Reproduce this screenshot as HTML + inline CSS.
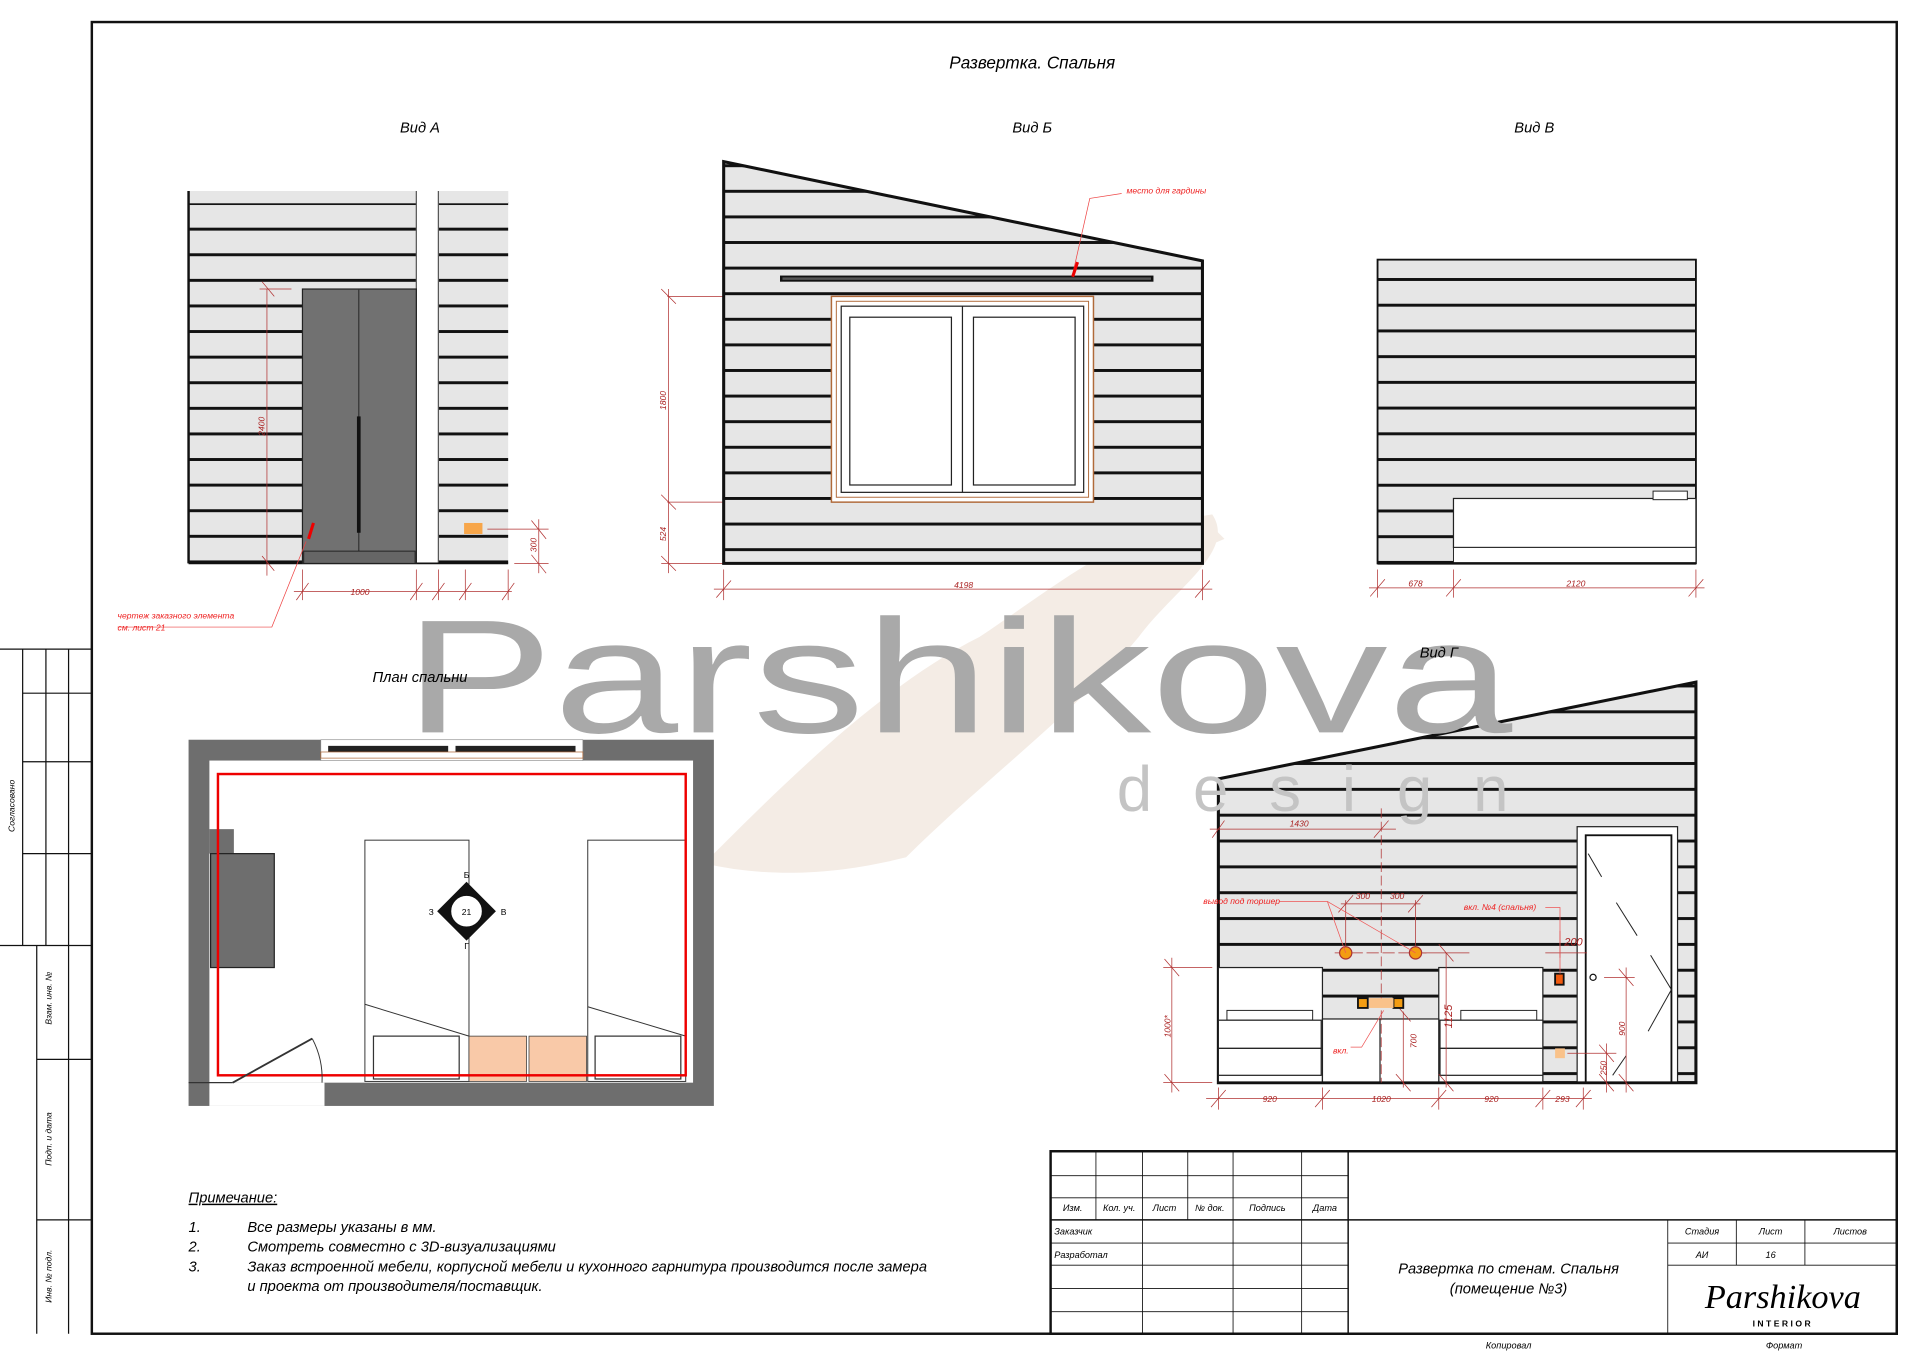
<!DOCTYPE html>
<html><head><meta charset="utf-8"><style>html,body{margin:0;padding:0;background:#fff}svg{display:block}text{font-family:"Liberation Sans",sans-serif;font-style:italic}</style></head>
<body>
<svg width="1920" height="1357" viewBox="0 0 1568 1108" preserveAspectRatio="none" xmlns="http://www.w3.org/2000/svg">
<defs>
<pattern id="pa" patternUnits="userSpaceOnUse" x="0" y="165" width="2000" height="20.9"><rect width="2000" height="20.9" fill="#e6e6e6"/><rect width="2000" height="2.4" fill="#111"/></pattern>
<pattern id="pb" patternUnits="userSpaceOnUse" x="0" y="155" width="2000" height="20.9"><rect width="2000" height="20.9" fill="#e6e6e6"/><rect width="2000" height="2.4" fill="#111"/></pattern>
<pattern id="pv" patternUnits="userSpaceOnUse" x="0" y="227" width="2000" height="21"><rect width="2000" height="21" fill="#e6e6e6"/><rect width="2000" height="2.4" fill="#111"/></pattern>
<pattern id="pg" patternUnits="userSpaceOnUse" x="0" y="580" width="2000" height="21.1"><rect width="2000" height="21.1" fill="#e6e6e6"/><rect width="2000" height="2.4" fill="#111"/></pattern>
</defs>
<rect width="1568" height="1108" fill="#fff"/>
<path d="M575,705 C640,640 720,560 800,520 C860,480 920,430 990,420 C1010,450 960,480 930,520 C880,580 800,640 740,700 C700,710 640,720 575,705Z" fill="#f4ece5"/>
<path d="M870,420 L960,400 L1000,440 L930,470Z" fill="#f4ece5"/>
<rect x="75" y="18" width="1474" height="1071" fill="none" stroke="#111" stroke-width="2"/>
<g stroke="#111" stroke-width="1" fill="none">
<line x1="0" y1="530" x2="75" y2="530"/><line x1="0" y1="772" x2="75" y2="772"/>
<line x1="18.5" y1="530" x2="18.5" y2="772"/><line x1="37.5" y1="530" x2="37.5" y2="772"/><line x1="56" y1="530" x2="56" y2="772"/>
<line x1="18.5" y1="566" x2="75" y2="566"/><line x1="18.5" y1="622" x2="75" y2="622"/><line x1="18.5" y1="697" x2="75" y2="697"/>
<line x1="30" y1="772" x2="30" y2="1089"/><line x1="56" y1="772" x2="56" y2="1089"/>
<line x1="30" y1="865" x2="75" y2="865"/><line x1="30" y1="996" x2="75" y2="996"/>
</g>
<text transform="translate(12,658) rotate(-90)" font-size="7" text-anchor="middle">Согласовано</text>
<text transform="translate(42,815) rotate(-90)" font-size="7" text-anchor="middle">Взам. инв. №</text>
<text transform="translate(42,930) rotate(-90)" font-size="7" text-anchor="middle">Подп. и дата</text>
<text transform="translate(42,1042) rotate(-90)" font-size="7" text-anchor="middle">Инв. № подл.</text>

<rect x="154" y="156" width="186" height="304" fill="url(#pa)"/>
<rect x="358" y="156" width="57" height="304" fill="url(#pa)"/>
<rect x="154" y="156" width="186" height="10" fill="#e6e6e6"/><rect x="358" y="156" width="57" height="10" fill="#e6e6e6"/>
<line x1="154" y1="156" x2="154" y2="460" stroke="#111" stroke-width="2"/>
<line x1="340" y1="156" x2="340" y2="460" stroke="#555" stroke-width="1"/><line x1="358" y1="156" x2="358" y2="460" stroke="#555" stroke-width="1"/>
<line x1="154" y1="460" x2="415" y2="460" stroke="#111" stroke-width="1.5"/>
<rect x="247" y="236" width="93" height="224" fill="#717171" stroke="#222"/>
<line x1="293" y1="236" x2="293" y2="450" stroke="#333"/>
<rect x="291.5" y="340" width="3" height="95" fill="#111"/>
<rect x="248" y="450" width="91" height="10" fill="#666" stroke="#222" stroke-width="0.8"/>
<rect x="379" y="427" width="15" height="9" fill="#f7a64a"/>
<g stroke="#b03030" stroke-width="0.6" fill="none">
<line x1="218" y1="236" x2="218" y2="470"/><line x1="212" y1="236" x2="238" y2="236"/>
<line x1="214" y1="230" x2="224" y2="242"/><line x1="214" y1="454" x2="224" y2="466"/>
<line x1="240" y1="483" x2="418" y2="483"/>
<line x1="247" y1="465" x2="247" y2="490"/><line x1="340" y1="465" x2="340" y2="490"/><line x1="358" y1="465" x2="358" y2="490"/><line x1="380" y1="465" x2="380" y2="490"/><line x1="415" y1="465" x2="415" y2="490"/>
<line x1="242" y1="490" x2="252" y2="476"/><line x1="335" y1="490" x2="345" y2="476"/><line x1="353" y1="490" x2="363" y2="476"/><line x1="375" y1="490" x2="385" y2="476"/><line x1="410" y1="490" x2="420" y2="476"/>
<line x1="398" y1="432" x2="448" y2="432"/><line x1="420" y1="460" x2="448" y2="460"/><line x1="440" y1="424" x2="440" y2="468"/>
<line x1="434" y1="425" x2="446" y2="440"/><line x1="434" y1="453" x2="446" y2="468"/>
<line x1="545" y1="242" x2="680" y2="242"/><line x1="545" y1="410" x2="680" y2="410"/><line x1="540" y1="460" x2="590" y2="460"/>
<line x1="546" y1="236" x2="546" y2="468"/><line x1="540" y1="236" x2="552" y2="248"/><line x1="540" y1="404" x2="552" y2="416"/><line x1="540" y1="454" x2="552" y2="466"/>
<line x1="583" y1="481" x2="990" y2="481"/><line x1="591" y1="465" x2="591" y2="490"/><line x1="982" y1="465" x2="982" y2="490"/>
<line x1="585" y1="488" x2="597" y2="474"/><line x1="976" y1="488" x2="988" y2="474"/>
<line x1="1118" y1="480" x2="1392" y2="480"/><line x1="1125" y1="465" x2="1125" y2="488"/><line x1="1187" y1="465" x2="1187" y2="488"/><line x1="1385" y1="465" x2="1385" y2="488"/>
<line x1="1119" y1="487" x2="1131" y2="473"/><line x1="1181" y1="487" x2="1193" y2="473"/><line x1="1379" y1="487" x2="1391" y2="473"/>
</g>
<path d="M256,427 L252,440" stroke="#e00" stroke-width="2.5"/>
<polyline points="250,442 222,512 96,512" stroke="#e44" stroke-width="0.6" fill="none"/>
<text x="96" y="505" font-size="7" fill="#e22">чертеж заказного элемента</text>
<text x="96" y="515" font-size="7" fill="#e22">см. лист 21</text>
<text x="294" y="486" font-size="7" fill="#a22" text-anchor="middle">1000</text>
<text transform="translate(216,348) rotate(-90)" font-size="7" fill="#a22" text-anchor="middle">2400</text>
<text transform="translate(438,445) rotate(-90)" font-size="7" fill="#a22" text-anchor="middle">300</text>

<polygon points="591,132 982,213 982,460 591,460" fill="url(#pb)"/>
<polygon points="591,132 982,213 982,460 591,460" fill="none" stroke="#111" stroke-width="2.5"/>
<rect x="637" y="225" width="305" height="5" fill="#111"/><rect x="639" y="226.5" width="301" height="2" fill="#555"/>
<rect x="679" y="242" width="214" height="168" fill="#fff" stroke="#b06a3a" stroke-width="1.2"/>
<rect x="683" y="246" width="206" height="160" fill="none" stroke="#b06a3a" stroke-width="0.8"/>
<rect x="687" y="250" width="198" height="152" fill="none" stroke="#222" stroke-width="1"/>
<rect x="694" y="259" width="83" height="137" fill="#fff" stroke="#222"/>
<rect x="795" y="259" width="83" height="137" fill="#fff" stroke="#222"/>
<line x1="786" y1="250" x2="786" y2="402" stroke="#222"/>
<text transform="translate(544,327) rotate(-90)" font-size="7" fill="#a22" text-anchor="middle">1800</text>
<text transform="translate(544,436) rotate(-90)" font-size="7" fill="#a22" text-anchor="middle">524</text>
<text x="787" y="480" font-size="7" fill="#a22" text-anchor="middle">4198</text>
<polyline points="876,224 890,162 916,158" stroke="#e44" stroke-width="0.6" fill="none"/>
<path d="M880,214 L876,226" stroke="#e00" stroke-width="2.5"/>
<text x="920" y="158" font-size="7" fill="#e22">место для гардины</text>

<rect x="1125" y="212" width="260" height="248" fill="url(#pv)"/>
<rect x="1125" y="212" width="260" height="248" fill="none" stroke="#111" stroke-width="1.5"/>
<rect x="1187" y="407" width="198" height="40" fill="#fff" stroke="#222"/>
<rect x="1350" y="401" width="28" height="7" fill="#fff" stroke="#222" stroke-width="0.8"/>
<rect x="1187" y="447" width="198" height="13" fill="#fff" stroke="#222" stroke-width="0.8"/>
<line x1="1125" y1="460" x2="1385" y2="460" stroke="#111" stroke-width="2"/>
<text x="1156" y="479" font-size="7" fill="#a22" text-anchor="middle">678</text>
<text x="1287" y="479" font-size="7" fill="#a22" text-anchor="middle">2120</text>

<rect x="154" y="604" width="429" height="299" fill="#6e6e6e"/>
<rect x="171" y="621" width="395" height="263" fill="#fff"/>
<rect x="262" y="604" width="214" height="17" fill="#fff" stroke="#888" stroke-width="0.5"/>
<rect x="268" y="609" width="98" height="5" fill="#222"/><rect x="372" y="609" width="98" height="5" fill="#222"/>
<rect x="262" y="614" width="214" height="5" fill="none" stroke="#b06a3a" stroke-width="0.6"/>
<rect x="171" y="884" width="94" height="19" fill="#fff"/>
<line x1="154" y1="884" x2="190" y2="884" stroke="#333"/>
<rect x="171" y="677" width="20" height="20" fill="#6e6e6e"/>
<rect x="172" y="697" width="52" height="93" fill="#6e6e6e" stroke="#222"/>
<rect x="298" y="686" width="85" height="197" fill="#fff" stroke="#333" stroke-width="0.8"/>
<rect x="480" y="686" width="80" height="197" fill="#fff" stroke="#333" stroke-width="0.8"/>
<line x1="298" y1="820" x2="383" y2="846" stroke="#333" stroke-width="0.8"/><line x1="480" y1="822" x2="560" y2="846" stroke="#333" stroke-width="0.8"/>
<rect x="305" y="846" width="70" height="35" fill="#fff" stroke="#333"/><rect x="486" y="846" width="70" height="35" fill="#fff" stroke="#333"/>
<rect x="383" y="846" width="47" height="37" fill="#f9c9a8" stroke="#333" stroke-width="0.6"/><rect x="432" y="846" width="47" height="37" fill="#f9c9a8" stroke="#333" stroke-width="0.6"/>
<rect x="178" y="632" width="382" height="246" fill="none" stroke="#e00" stroke-width="2"/>
<line x1="190" y1="884" x2="255" y2="848" stroke="#333" stroke-width="1.5"/>
<path d="M255,848 A70,70 0 0 1 263,884" fill="none" stroke="#333" stroke-width="0.8"/>
<polygon points="381,720 405,744 381,768 357,744" fill="#111"/>
<circle cx="381" cy="744" r="13" fill="#fff" stroke="#111"/>
<text x="381" y="747" font-size="7" text-anchor="middle" style="font-style:normal">21</text>
<text x="381" y="717" font-size="7" text-anchor="middle" style="font-style:normal">Б</text>
<text x="409" y="747" font-size="7" style="font-style:normal">В</text>
<text x="350" y="747" font-size="7" style="font-style:normal">З</text>
<text x="381" y="775" font-size="7" text-anchor="middle" style="font-style:normal">Г</text>

<polygon points="995,636 1385,557 1385,884 995,884" fill="url(#pg)"/>
<polygon points="995,636 1385,557 1385,884 995,884" fill="none" stroke="#111" stroke-width="2.5"/>
<rect x="995" y="790" width="85" height="94" fill="#fff" stroke="#222"/>
<rect x="1175" y="790" width="85" height="94" fill="#fff" stroke="#222"/>
<rect x="1002" y="825" width="70" height="8" fill="#fff" stroke="#222" stroke-width="0.8"/>
<rect x="1193" y="825" width="62" height="8" fill="#fff" stroke="#222" stroke-width="0.8"/>
<rect x="995" y="833" width="84" height="23" fill="#fff" stroke="#222"/><rect x="995" y="856" width="84" height="22" fill="#fff" stroke="#222"/>
<rect x="1176" y="833" width="84" height="23" fill="#fff" stroke="#222"/><rect x="1176" y="856" width="84" height="22" fill="#fff" stroke="#222"/>
<rect x="1080" y="832" width="95" height="52" fill="#fff" stroke="#222"/>
<line x1="1127" y1="832" x2="1127" y2="884" stroke="#222"/>
<rect x="1288" y="675" width="82" height="209" fill="#fff" stroke="#222"/>
<rect x="1295" y="682" width="70" height="202" fill="#fff" stroke="#111" stroke-width="1.5"/>
<g stroke="#222" stroke-width="0.8"><line x1="1297" y1="697" x2="1308" y2="716"/><line x1="1320" y1="737" x2="1337" y2="764"/><line x1="1348" y1="780" x2="1365" y2="808"/><line x1="1365" y1="808" x2="1346" y2="842"/><line x1="1317" y1="878" x2="1328" y2="862"/></g>
<circle cx="1301" cy="798" r="2.5" fill="#fff" stroke="#111"/>
<line x1="995" y1="884" x2="1385" y2="884" stroke="#111" stroke-width="2"/>
<g stroke="#b03030" stroke-width="0.6" fill="none">
<line x1="988" y1="677" x2="1140" y2="677"/><line x1="1128" y1="660" x2="1128" y2="884" stroke-dasharray="8 3"/>
<line x1="990" y1="684" x2="1000" y2="670"/><line x1="1122" y1="684" x2="1134" y2="670"/>
<line x1="1095" y1="738" x2="1160" y2="738"/><line x1="1099" y1="735" x2="1099" y2="778"/><line x1="1156" y1="735" x2="1156" y2="778"/>
<line x1="1093" y1="745" x2="1105" y2="731"/><line x1="1150" y1="745" x2="1162" y2="731"/>
<line x1="1090" y1="778" x2="1165" y2="778" stroke-dasharray="10 3"/>
<line x1="950" y1="790" x2="990" y2="790"/><line x1="950" y1="884" x2="990" y2="884"/><line x1="957" y1="782" x2="957" y2="892"/>
<line x1="951" y1="783" x2="963" y2="797"/><line x1="951" y1="877" x2="963" y2="891"/>
<line x1="1181" y1="778" x2="1181" y2="888"/><line x1="1162" y1="778" x2="1200" y2="778"/><line x1="1175" y1="771" x2="1187" y2="785"/><line x1="1175" y1="877" x2="1187" y2="891"/>
<line x1="1146" y1="826" x2="1146" y2="888"/><line x1="1140" y1="820" x2="1152" y2="834"/><line x1="1140" y1="877" x2="1152" y2="891"/>
<line x1="1262" y1="778" x2="1296" y2="778"/><line x1="1274" y1="782" x2="1274" y2="760"/>
<line x1="1310" y1="798" x2="1335" y2="798"/><line x1="1328" y1="790" x2="1328" y2="892"/><line x1="1322" y1="791" x2="1334" y2="805"/><line x1="1322" y1="877" x2="1334" y2="891"/>
<line x1="1280" y1="860" x2="1320" y2="860"/><line x1="1312" y1="852" x2="1312" y2="892"/><line x1="1306" y1="853" x2="1318" y2="867"/><line x1="1306" y1="877" x2="1318" y2="891"/>
<line x1="985" y1="897" x2="1300" y2="897"/>
<line x1="995" y1="888" x2="995" y2="906"/><line x1="1080" y1="888" x2="1080" y2="906"/><line x1="1175" y1="888" x2="1175" y2="906"/><line x1="1260" y1="888" x2="1260" y2="906"/><line x1="1293" y1="888" x2="1293" y2="906"/>
<line x1="989" y1="904" x2="1001" y2="890"/><line x1="1074" y1="904" x2="1086" y2="890"/><line x1="1169" y1="904" x2="1181" y2="890"/><line x1="1254" y1="904" x2="1266" y2="890"/><line x1="1287" y1="904" x2="1299" y2="890"/>
</g>
<circle cx="1099" cy="778" r="5" fill="#f39c12" stroke="#a33"/>
<circle cx="1156" cy="778" r="5" fill="#f39c12" stroke="#a33"/>
<polyline points="1084,736 1099,778" stroke="#e55" stroke-width="0.6" fill="none"/><polyline points="1084,736 1156,778" stroke="#e55" stroke-width="0.6" fill="none"/>
<line x1="1045" y1="736" x2="1084" y2="736" stroke="#e55" stroke-width="0.6"/>
<rect x="1109" y="815" width="8" height="8" fill="#f39c12" stroke="#111" stroke-width="1.5"/>
<rect x="1138" y="815" width="8" height="8" fill="#f39c12" stroke="#111" stroke-width="1.5"/>
<rect x="1118" y="815" width="20" height="8" fill="#f9c28a"/>
<rect x="1270" y="795" width="7" height="9" fill="#f05a10" stroke="#111" stroke-width="1.5"/>
<rect x="1270" y="856" width="8" height="8" fill="#f9c28a"/>
<polyline points="1262,741 1274,741 1274,795" stroke="#e55" stroke-width="0.6" fill="none"/>
<polyline points="1103,855 1112,855 1130,825" stroke="#e55" stroke-width="0.6" fill="none"/>
<text x="1014" y="738" font-size="7" fill="#e22" text-anchor="middle">вывод под торшер</text>
<text x="1225" y="743" font-size="7" fill="#e22" text-anchor="middle">вкл. №4 (спальня)</text>
<text x="1095" y="860" font-size="7" fill="#e22" text-anchor="middle">вкл.</text>
<text x="1061" y="675" font-size="7" fill="#a22" text-anchor="middle">1430</text>
<text x="1113" y="734" font-size="7" fill="#a22" text-anchor="middle">300</text>
<text x="1141" y="734" font-size="7" fill="#a22" text-anchor="middle">300</text>
<text x="1285" y="772" font-size="9" fill="#a22" text-anchor="middle">200</text>
<text transform="translate(956,838) rotate(-90)" font-size="7" fill="#a22" text-anchor="middle">1000*</text>
<text transform="translate(1186,830) rotate(-90)" font-size="9" fill="#a22" text-anchor="middle">1125</text>
<text transform="translate(1157,850) rotate(-90)" font-size="7" fill="#a22" text-anchor="middle">700</text>
<text transform="translate(1327,840) rotate(-90)" font-size="7" fill="#a22" text-anchor="middle">900</text>
<text transform="translate(1312,872) rotate(-90)" font-size="7" fill="#a22" text-anchor="middle">250</text>
<text x="1037" y="900" font-size="7" fill="#a22" text-anchor="middle">920</text>
<text x="1128" y="900" font-size="7" fill="#a22" text-anchor="middle">1020</text>
<text x="1218" y="900" font-size="7" fill="#a22" text-anchor="middle">920</text>
<text x="1276" y="900" font-size="7" fill="#a22" text-anchor="middle">293</text>

<text x="330" y="598" font-size="132" fill="#a9a9a9" textLength="905" lengthAdjust="spacingAndGlyphs" style="font-style:normal">Parshikova</text>
<text x="912" y="662" font-size="52" fill="#c4c4c4" textLength="320" lengthAdjust="spacing" style="font-style:normal">design</text>

<text x="843" y="56" font-size="14" text-anchor="middle">Развертка. Спальня</text>
<text x="343" y="108" font-size="12" text-anchor="middle">Вид А</text>
<text x="843" y="108" font-size="12" text-anchor="middle">Вид Б</text>
<text x="1253" y="108" font-size="12" text-anchor="middle">Вид В</text>
<text x="1175" y="537" font-size="12" text-anchor="middle">Вид Г</text>
<text x="343" y="557" font-size="12" text-anchor="middle">План  спальни</text>

<text x="154" y="982" font-size="12" text-decoration="underline">Примечание:</text>
<text x="154" y="1006" font-size="12">1.</text><text x="202" y="1006" font-size="12">Все размеры указаны в мм.</text>
<text x="154" y="1022" font-size="12">2.</text><text x="202" y="1022" font-size="12">Смотреть совместно с 3D-визуализациями</text>
<text x="154" y="1038" font-size="12">3.</text><text x="202" y="1038" font-size="12">Заказ встроенной мебели, корпусной мебели и кухонного гарнитура производится после замера</text>
<text x="202" y="1054" font-size="12">и проекта от производителя/поставщик.</text>

<g stroke="#111" fill="none">
<rect x="858" y="940" width="691" height="149" stroke-width="2"/>
<line x1="1101" y1="940" x2="1101" y2="1089" stroke-width="1.2"/>
<line x1="858" y1="996" x2="1549" y2="996" stroke-width="1.2"/>
<g stroke-width="0.7">
<line x1="858" y1="960" x2="1101" y2="960"/><line x1="858" y1="978" x2="1101" y2="978"/>
<line x1="858" y1="1015" x2="1101" y2="1015"/><line x1="858" y1="1033" x2="1101" y2="1033"/><line x1="858" y1="1052" x2="1101" y2="1052"/><line x1="858" y1="1071" x2="1101" y2="1071"/>
<line x1="895" y1="940" x2="895" y2="996"/><line x1="933" y1="940" x2="933" y2="1089"/><line x1="970" y1="940" x2="970" y2="996"/><line x1="1007" y1="940" x2="1007" y2="1089"/><line x1="1063" y1="940" x2="1063" y2="1089"/>
<line x1="1362" y1="996" x2="1362" y2="1089"/><line x1="1418" y1="996" x2="1418" y2="1033"/><line x1="1474" y1="996" x2="1474" y2="1033"/>
<line x1="1362" y1="1015" x2="1549" y2="1015"/><line x1="1362" y1="1033" x2="1549" y2="1033"/>
</g></g>
<g font-size="7.5">
<text x="876" y="989" text-anchor="middle">Изм.</text><text x="914" y="989" text-anchor="middle">Кол. уч.</text><text x="951" y="989" text-anchor="middle">Лист</text><text x="988" y="989" text-anchor="middle">№ док.</text><text x="1035" y="989" text-anchor="middle">Подпись</text><text x="1082" y="989" text-anchor="middle">Дата</text>
<text x="861" y="1008">Заказчик</text><text x="861" y="1027">Разработал</text>
<text x="1390" y="1008" text-anchor="middle">Стадия</text><text x="1446" y="1008" text-anchor="middle">Лист</text><text x="1511" y="1008" text-anchor="middle">Листов</text>
<text x="1390" y="1027" text-anchor="middle">АИ</text><text x="1446" y="1027" text-anchor="middle">16</text>
<text x="1232" y="1101" text-anchor="middle">Копировал</text><text x="1457" y="1101" text-anchor="middle">Формат</text>
</g>
<text x="1232" y="1040" font-size="12" text-anchor="middle">Развертка по стенам. Спальня</text>
<text x="1232" y="1056" font-size="12" text-anchor="middle">(помещение №3)</text>
<text x="1456" y="1068" font-size="28" text-anchor="middle" style="font-family:'Liberation Serif',serif">Parshikova</text>
<text x="1456" y="1083" font-size="7" text-anchor="middle" letter-spacing="2" style="font-style:normal;font-weight:bold">INTERIOR</text>
</svg>
</body></html>
